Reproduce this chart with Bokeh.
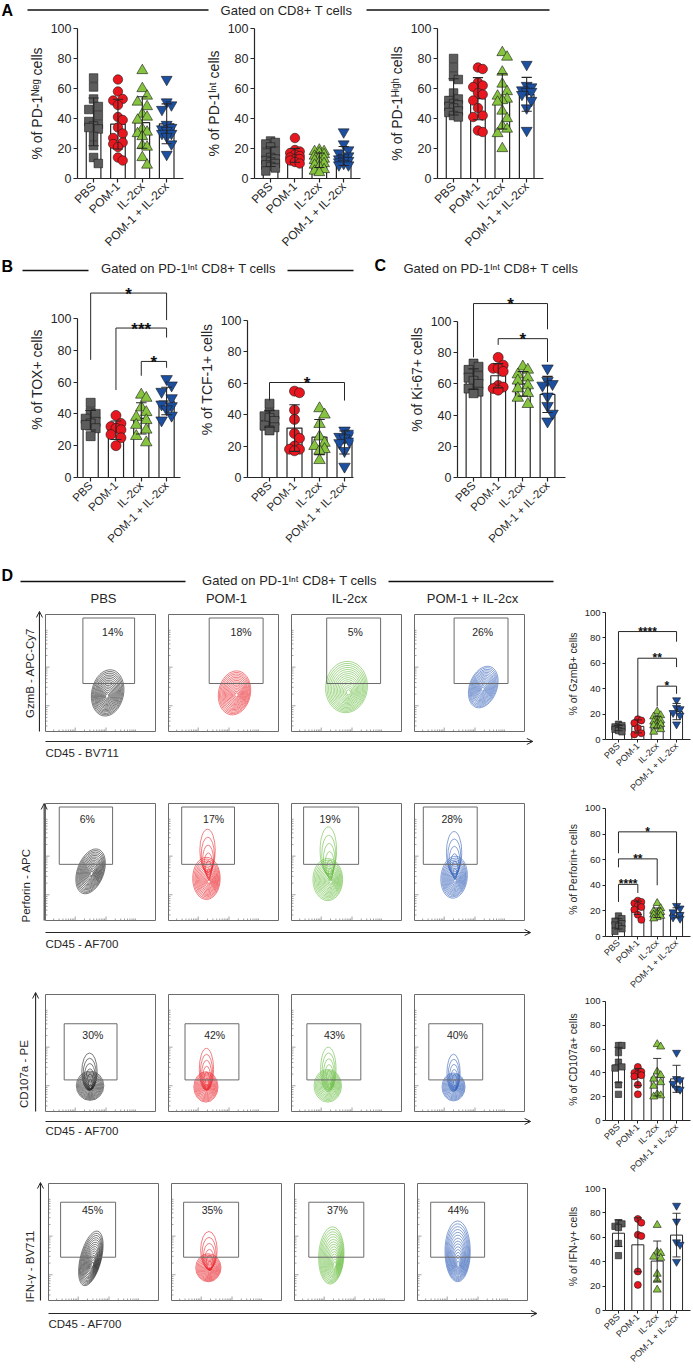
import math
import numpy as np
from bokeh.plotting import figure
from bokeh.layouts import column, row
from bokeh.models import FixedTicker, Range1d, Arrow, OpenHead
from bokeh.core.properties import value
from bokeh.embed import file_html
from bokeh.resources import INLINE

FONT = "Liberation Sans"
INK = "#262626"
GRAYLINE = "#6b6b6b"

groups = ["PBS", "POM-1", "IL-2cx", "POM-1 + IL-2cx"]
marker_fill = ["#5c5c5c", "#e8161e", "#86c440", "#1c4f9f"]
marker_kind = ["square", "circle", "triangle", "inverted_triangle"]
marker_scale = [0.9, 1.0, 1.15, 1.15]
flow_color = ["#1f1f1f", "#e8262d", "#66bd3f", "#3562b8"]

# ---------------- data ----------------
pd1_neg = [
    [67, 61, 53, 48, 46, 42, 38, 36, 35, 34, 33, 28, 22, 14, 10],
    [66, 58, 53, 52, 49, 41, 39, 34, 30, 27, 24, 23, 21, 14, 12],
    [72, 60, 55, 51, 48, 43, 41, 39, 33, 31, 30, 28, 22, 21, 14, 9],
    [66, 51, 49, 46, 36, 34, 33, 32, 30, 30, 28, 23, 16],
]
pd1_int = [
    [25, 24, 23, 21, 18, 17, 14, 13, 12, 11, 10, 9, 8, 7, 5],
    [27, 19, 18, 17, 16, 15, 14, 13, 13, 12, 11, 10],
    [19, 18, 18, 17, 16, 15, 14, 13, 12, 11, 10, 9, 8, 6, 5, 4],
    [31, 23, 19, 17, 15, 14, 13, 12, 12, 11, 10, 9, 9],
]
pd1_high = [
    [80, 74, 68, 66, 57, 53, 52, 50, 49, 48, 47, 45, 44, 42, 41],
    [74, 73, 64, 62, 61, 57, 56, 52, 47, 42, 41, 32, 31],
    [84, 81, 71, 63, 58, 55, 53, 52, 51, 45, 40, 35, 33, 30, 20],
    [76, 62, 61, 59, 58, 58, 56, 52, 47, 32],
]
tox = [
    [47, 41, 40, 37, 35, 34, 33, 31, 26],
    [39, 34, 32, 31, 30, 27, 25, 20],
    [52, 50, 44, 41, 38, 36, 33, 30, 26, 22],
    [62, 58, 54, 50, 46, 45, 43, 39, 36],
]
tcf1 = [
    [47, 41, 40, 39, 38, 36, 33, 32, 30],
    [55, 54, 43, 37, 28, 25, 20, 18, 18, 17],
    [44, 40, 34, 26, 22, 20, 18, 17, 11],
    [30, 28, 26, 25, 23, 22, 17, 7],
]
ki67 = [
    [73, 71, 69, 65, 64, 62, 60, 57, 55, 54],
    [77, 72, 70, 70, 68, 59, 58, 57, 56],
    [71, 69, 66, 64, 62, 59, 57, 54, 51, 47],
    [70, 62, 60, 59, 52, 46, 41, 36],
]
gzmb = [
    [12, 11, 10, 9, 9, 8, 7, 6],
    [16, 15, 13, 9, 5, 4],
    [22, 19, 18, 16, 15, 14, 13, 12, 11, 10, 8, 6],
    [31, 25, 24, 21, 19, 12],
]
perforin = [
    [16, 14, 12, 10, 9, 8, 6, 4],
    [28, 27, 26, 24, 23, 21, 17, 13],
    [26, 22, 20, 19, 18, 17, 16, 15, 14],
    [24, 22, 19, 17, 15, 14],
]
cd107a = [
    [63, 63, 57, 49, 45, 44, 30, 22],
    [45, 41, 40, 39, 38, 37, 30, 22],
    [64, 62, 41, 38, 35, 32, 29, 22, 21, 20],
    [57, 35, 34, 31, 27, 26],
]
ifng = [
    [72, 71, 69, 68, 55, 45],
    [75, 72, 62, 61, 32, 21],
    [70, 48, 47, 44, 43, 30, 25, 17],
    [86, 73, 56, 54, 40],
]

# significance brackets: (group i, group j, bracket height, left leg end, right leg end, label)
tox_sig = [(0, 3, 116, 74, 99, "*"), (1, 3, 94, 55, 88, "***"), (2, 3, 73, 64, 69, "*")]
tcf1_sig = [(0, 3, 60.5, 49, 49, "*")]
ki67_sig = [(0, 3, 111.5, 77, 95, "*"), (1, 3, 89, 85, 74, "*")]
gzmb_sig = [(0, 3, 85, 15, 77, "****"), (1, 3, 64, 18, 57, "**"), (2, 3, 42, 26, 36, "*")]
perforin_sig = [(0, 3, 81.7, 65, 24, "*"), (0, 2, 60.6, 54, 40, "**"), (0, 1, 40.7, 27, 34, "****")]

# flow plots: gate (x0, x1) per group, gate y-span per row, percentages, contour shapes
flow_rows = [
    dict(ylabel="GzmB - APC-Cy7", xlabel="CD45 - BV711",
         gate_x=[(0.34, 0.81), (0.37, 0.86), (0.32, 0.81), (0.36, 0.85)], gate_y=(0.41, 0.97),
         pct=["14%", "18%", "5%", "26%"], pct_x=[0.61, 0.66, 0.58, 0.62], pct_y=0.85,
         contours=[
             dict(core=(0.56, 0.30), parts=[(0.565, 0.33, 0.29, 0.40, -0.2, 15)]),
             dict(core=(0.62, 0.31), parts=[(0.60, 0.33, 0.29, 0.38, -0.2, 15)]),
             dict(core=(0.52, 0.33), parts=[(0.50, 0.38, 0.38, 0.44, -0.1, 15)]),
             dict(core=(0.62, 0.36), parts=[(0.625, 0.38, 0.25, 0.37, -0.35, 15)]),
         ]),
    dict(ylabel="Perforin - APC", xlabel="CD45 - AF700",
         gate_x=[(0.125, 0.61), (0.12, 0.60), (0.11, 0.61), (0.08, 0.57)], gate_y=(0.48, 0.97),
         pct=["6%", "17%", "19%", "28%"], pct_x=[0.38, 0.41, 0.35, 0.34], pct_y=0.87,
         contours=[
             dict(core=(0.42, 0.40), parts=[(0.41, 0.42, 0.24, 0.40, -0.35, 15)]),
             dict(core=(0.37, 0.33), parts=[(0.345, 0.36, 0.25, 0.36, 0.0, 14), (0.355, 0.60, 0.14, 0.36, 0.0, 7)]),
             dict(core=(0.36, 0.33), parts=[(0.33, 0.35, 0.27, 0.36, 0.0, 14), (0.335, 0.60, 0.15, 0.40, 0.0, 7)]),
             dict(core=(0.37, 0.34), parts=[(0.36, 0.37, 0.24, 0.36, -0.1, 14), (0.36, 0.58, 0.14, 0.36, 0.0, 7)]),
         ]),
    dict(ylabel="CD107a - PE", xlabel="CD45 - AF700",
         gate_x=[(0.17, 0.65), (0.15, 0.64), (0.14, 0.63), (0.13, 0.62)], gate_y=(0.27, 0.75),
         pct=["30%", "42%", "43%", "40%"], pct_x=[0.43, 0.42, 0.39, 0.39], pct_y=0.65,
         contours=[
             dict(core=(0.41, 0.20), parts=[(0.405, 0.22, 0.25, 0.25, 0.0, 13), (0.40, 0.34, 0.14, 0.32, 0.0, 7)]),
             dict(core=(0.35, 0.20), parts=[(0.34, 0.21, 0.22, 0.26, 0.0, 13), (0.345, 0.36, 0.13, 0.36, 0.0, 7)]),
             dict(core=(0.35, 0.22), parts=[(0.33, 0.22, 0.25, 0.28, 0.0, 13), (0.335, 0.36, 0.14, 0.38, 0.0, 7)]),
             dict(core=(0.37, 0.20), parts=[(0.355, 0.21, 0.21, 0.24, 0.0, 13), (0.355, 0.33, 0.12, 0.32, 0.0, 7)]),
         ]),
    dict(ylabel="IFN-\u03b3 - BV711", xlabel="CD45 - AF700",
         gate_x=[(0.11, 0.61), (0.11, 0.61), (0.13, 0.63), (0.12, 0.61)], gate_y=(0.37, 0.84),
         pct=["45%", "35%", "37%", "44%"], pct_x=[0.40, 0.37, 0.39, 0.37], pct_y=0.77,
         contours=[
             dict(core=(0.40, 0.30), parts=[(0.385, 0.36, 0.19, 0.48, -0.25, 15)]),
             dict(core=(0.35, 0.25), parts=[(0.335, 0.28, 0.23, 0.24, 0.0, 13), (0.34, 0.43, 0.15, 0.32, 0.0, 7)]),
             dict(core=(0.37, 0.30), parts=[(0.335, 0.385, 0.23, 0.49, -0.05, 15)]),
             dict(core=(0.37, 0.30), parts=[(0.365, 0.42, 0.23, 0.52, 0.0, 15)]),
         ]),
]
# instrument axis decades (relative panel position) for the small inner tick marks
flow_dec_x = [0.27, 0.55, 0.83]
flow_dec_y = [0.22, 0.55, 0.88]

SUP_NEG = "\u1d3a\u1d49\u1d4d"
SUP_INT = "\u1d35\u207f\u1d57"
SUP_HIGH = "\u1d34\u2071\u1d4d\u02b0"


def txt(p, x, y, s, size, align="left", baseline="middle", angle=0.0, bold=False, color=INK, **kw):
    p.text(x=[x], y=[y], text=[s], text_font=value(FONT), text_font_size=f"{size}px",
           text_align=align, text_baseline=baseline, angle=angle,
           text_font_style="bold" if bold else "normal", text_color=color, **kw)


def swarm_offsets(vals, ppx, ppy, size, max_units):
    vals = np.asarray(vals, float)
    order = np.argsort(-vals, kind="stable")
    step = size * 0.5 / ppx
    cands = [0.0]
    k = 1
    while k * step <= max_units + 1e-9:
        cands += [k * step, -k * step]
        k += 1
    placed = []
    offs = np.zeros(len(vals))
    for i in order:
        y = vals[i] * ppy
        best, bestd = 0.0, -1.0
        for c in cands:
            x = c * ppx
            d = min([math.hypot(x - xp, y - yp) for xp, yp in placed] or [1e9])
            if d >= size * 0.85:
                best = c
                break
            if d > bestd:
                best, bestd = c, d
        offs[i] = best
        placed.append((best * ppx, y))
    return offs


def bar_chart(data, ylabel, fig_w, fig_h, left, frame_w, top, frame_h, y_end, x_start, x_end,
              msize, bar_w, cap_w, tick_fs, cat_fs, label_fs, brackets=(), star_fs=17, star_dy=0.0,
              tick_out=4, lw=1.2):
    right = fig_w - left - frame_w
    bottom = fig_h - top - frame_h
    p = figure(width=fig_w, height=fig_h, x_range=Range1d(x_start, x_end), y_range=Range1d(0, y_end),
               min_border_left=left, min_border_right=right, min_border_top=top, min_border_bottom=bottom,
               output_backend="svg", toolbar_location=None)
    p.outline_line_color = None
    p.xgrid.visible = False
    p.ygrid.visible = False
    p.background_fill_color = "white"
    p.border_fill_color = "white"

    ppx = frame_w / (x_end - x_start)
    ppy = frame_h / y_end
    xs = [0, 1, 2, 3]
    means = [float(np.mean(v)) for v in data]
    sds = [float(np.std(v, ddof=1)) for v in data]
    p.vbar(x=xs, top=means, width=bar_w, bottom=0, fill_color="white", line_color=INK, line_width=lw)
    for i, v in enumerate(data):
        ms = msize * marker_scale[i]
        offs = swarm_offsets(v, ppx, ppy, msize, bar_w * 0.55)
        p.scatter(x=[i + o for o in offs], y=v, marker=marker_kind[i], size=ms,
                  fill_color=marker_fill[i], line_color="#1a1a1a", line_width=0.6)
    lo = [m - s for m, s in zip(means, sds)]
    hi = [m + s for m, s in zip(means, sds)]
    p.segment(x0=xs, y0=lo, x1=xs, y1=hi, line_color=INK, line_width=lw * 0.9)
    p.segment(x0=[x - cap_w / 2 for x in xs], y0=hi, x1=[x + cap_w / 2 for x in xs], y1=hi,
              line_color=INK, line_width=lw * 0.9)
    p.segment(x0=[x - cap_w / 2 for x in xs], y0=lo, x1=[x + cap_w / 2 for x in xs], y1=lo,
              line_color=INK, line_width=lw * 0.9)
    for (i, j, yh, yl, yr, lab) in brackets:
        p.line([i, i, j, j], [yl, yh, yh, yr], line_color=INK, line_width=1.0)
        p.text(x=[(i + j) / 2], y=[yh], text=[lab], text_font=value(FONT),
               text_font_size=f"{star_fs}px", text_font_style="bold", text_align="center",
               text_baseline="alphabetic", text_color="#111111", y_offset=-star_dy)

    p.yaxis.ticker = FixedTicker(ticks=[0, 20, 40, 60, 80, 100])
    p.yaxis.bounds = (0, 100)
    p.xaxis.ticker = FixedTicker(ticks=xs)
    p.xaxis.major_label_overrides = {i: g for i, g in enumerate(groups)}
    p.xaxis.major_label_orientation = math.pi / 4
    for ax in (p.xaxis, p.yaxis):
        ax.axis_line_color = INK
        ax.axis_line_width = lw
        ax.major_tick_line_color = INK
        ax.major_tick_line_width = lw
        ax.major_tick_in = 0
        ax.major_tick_out = tick_out
        ax.minor_tick_line_color = None
        ax.major_label_text_font = FONT
        ax.major_label_text_color = INK
        ax.major_label_standoff = 2
    p.yaxis.major_label_text_font_size = f"{tick_fs}px"
    p.xaxis.major_label_text_font_size = f"{cat_fs}px"
    p.yaxis.axis_label = ylabel
    p.yaxis.axis_label_text_font = FONT
    p.yaxis.axis_label_text_font_style = "normal"
    p.yaxis.axis_label_text_font_size = f"{label_fs}px"
    p.yaxis.axis_label_text_color = INK
    p.yaxis.axis_label_standoff = 3
    return p


def blank_fig(w, h):
    p = figure(width=w, height=h, x_range=Range1d(0, w), y_range=Range1d(h, 0),
               x_axis_type=None, y_axis_type=None, min_border=0,
               output_backend="svg", toolbar_location=None)
    p.outline_line_color = None
    p.background_fill_color = "white"
    p.border_fill_color = "white"
    return p


def hline(p, x0, x1, y, w=1.6):
    p.line([x0, x1], [y, y], line_color="#111111", line_width=w)


BOX_X = 110.0   # px per panel unit (x)
BOX_Y = 117.0   # px per panel unit (y)
PITCH = 123.0 / BOX_X


def flow_row(spec, h, x0_px, top_px, arrow_x, arrow_top, xarrow_y, xarrow_end, xlab_y, ylab_x, ylab_y):
    x_start = -x0_px / BOX_X
    x_end = x_start + 545 / BOX_X
    y_end = 1 + top_px / BOX_Y
    y_start = y_end - h / BOX_Y
    p = figure(width=545, height=h, x_range=Range1d(x_start, x_end), y_range=Range1d(y_start, y_end),
               x_axis_type=None, y_axis_type=None, min_border=0,
               output_backend="svg", toolbar_location=None)
    p.outline_line_color = None
    p.background_fill_color = "white"
    p.border_fill_color = "white"
    px = [i * PITCH for i in range(4)]

    # inner tick marks on left and bottom edges
    ty, tyl, tx, txl = [], [], [], []
    for d in flow_dec_y:
        for k in range(1, 10):
            t = d + 0.33 * math.log10(k) - 0.33
            if 0.02 < t < 0.98:
                ty.append(t)
                tyl.append(4.0 if k == 1 else 2.0)
    for d in flow_dec_x:
        for k in range(1, 10):
            t = d + 0.28 * math.log10(k) - 0.28
            if 0.02 < t < 0.98:
                tx.append(t)
                txl.append(4.0 if k == 1 else 2.0)
    sx0, sy0, sx1, sy1 = [], [], [], []
    for xp in px:
        for t, L in zip(ty, tyl):
            sx0.append(xp); sx1.append(xp + L / BOX_X); sy0.append(t); sy1.append(t)
        for t, L in zip(tx, txl):
            sx0.append(xp + t); sx1.append(xp + t); sy0.append(0); sy1.append(L / BOX_Y)
    p.segment(x0=sx0, y0=sy0, x1=sx1, y1=sy1, line_color="#8a8a8a", line_width=0.8)

    # contours
    for i, c in enumerate(spec["contours"]):
        kx, ky = c["core"]
        for (cx, cy, w, hh, ang, n) in c["parts"]:
            s = np.linspace(1.0, 0.1, n)
            p.ellipse(x=px[i] + kx + (cx - kx) * s, y=ky + (cy - ky) * s, width=w * s, height=hh * s,
                      angle=ang, fill_color=None, line_color=flow_color[i], line_width=0.65, line_alpha=0.9)

    # panel boxes
    p.quad(left=px, right=[x + 1 for x in px], bottom=0, top=1, fill_color=None,
           line_color=GRAYLINE, line_width=1.0)
    # gates
    gy0, gy1 = spec["gate_y"]
    p.quad(left=[px[i] + g[0] for i, g in enumerate(spec["gate_x"])],
           right=[px[i] + g[1] for i, g in enumerate(spec["gate_x"])],
           bottom=gy0, top=gy1, fill_color=None, line_color=GRAYLINE, line_width=1.0)
    p.text(x=[px[i] + spec["pct_x"][i] for i in range(4)], y=[spec["pct_y"]] * 4, text=spec["pct"],
           text_font=value(FONT), text_font_size="10.5px", text_align="center", text_baseline="middle",
           text_color=INK)

    # big axis arrows
    p.add_layout(Arrow(end=OpenHead(size=6, line_color=INK, line_width=1.0), x_start=arrow_x, y_start=0.0,
                       x_end=arrow_x, y_end=arrow_top, line_color=INK, line_width=1.1))
    p.add_layout(Arrow(end=OpenHead(size=6, line_color=INK, line_width=1.0), x_start=0.0, y_start=xarrow_y,
                       x_end=xarrow_end, y_end=xarrow_y, line_color=INK, line_width=1.1))
    txt(p, 0.0, xlab_y, spec["xlabel"], 11.5, align="left", baseline="middle")
    txt(p, ylab_x, ylab_y, spec["ylabel"], 11.5, align="center", baseline="middle", angle=math.pi / 2)
    return p


# ---------------- headers ----------------
hA = blank_fig(693, 20)
txt(hA, 1, 10, "A", 16, bold=True, color="#000000")
hline(hA, 27, 208, 9.5)
txt(hA, 286, 10, "Gated on CD8+ T cells", 13, align="center")
hline(hA, 366, 549, 9.5)

hBC = blank_fig(693, 23)
txt(hBC, 1, 9, "B", 16, bold=True, color="#000000")
hline(hBC, 22, 88, 13)
txt(hBC, 188, 11, "Gated on PD-1" + SUP_INT + " CD8+ T cells", 13, align="center")
hline(hBC, 287, 353, 13)
txt(hBC, 374, 8, "C", 16, bold=True, color="#000000")
txt(hBC, 403, 11, "Gated on PD-1" + SUP_INT + " CD8+ T cells", 13, align="left")

hD = blank_fig(693, 54)
txt(hD, 1, 23, "D", 16, bold=True, color="#000000")
hline(hD, 20, 185, 29)
txt(hD, 289, 28, "Gated on PD-1" + SUP_INT + " CD8+ T cells", 13, align="center")
hline(hD, 388, 553, 29)
for i, g in enumerate(groups):
    txt(hD, 45 + i * 123 + 55 + 3, 46, g, 13, align="center")

# ---------------- panel A ----------------
A_kw = dict(fig_h=237, top=8, frame_h=150, y_end=100, x_start=-0.66, x_end=3.69, msize=9.5,
            bar_w=0.6, cap_w=0.42, tick_fs=12.5, cat_fs=12, label_fs=14)
a1 = bar_chart(pd1_neg, "% of PD-1" + SUP_NEG + " cells", fig_w=200, left=77, frame_w=106, **A_kw)
a2 = bar_chart(pd1_int, "% of PD-1" + SUP_INT + " cells", fig_w=183, left=54, frame_w=106, **A_kw)
a3 = bar_chart(pd1_high, "% of PD-1" + SUP_HIGH + " cells", fig_w=310, left=54, frame_w=106, **A_kw)

# ---------------- panels B, C ----------------
BC_kw = dict(fig_h=272, top=1, frame_h=196, msize=10, bar_w=0.6, cap_w=0.42,
             tick_fs=12.5, cat_fs=11.5, label_fs=14, star_fs=17, star_dy=-1.0)
b1 = bar_chart(tox, "% of TOX+ cells", fig_w=190, left=77, frame_w=103, y_end=196 / 1.59,
               x_start=-0.52, x_end=3.55, brackets=tox_sig, **BC_kw)
b2 = bar_chart(tcf1, "% of TCF-1+ cells", fig_w=190, left=57, frame_w=106, y_end=196 / 1.57,
               x_start=-0.88, x_end=3.36, brackets=tcf1_sig, **BC_kw)
c1 = bar_chart(ki67, "% of Ki-67+ cells", fig_w=313, left=77, frame_w=108, y_end=196 / 1.56,
               x_start=-0.65, x_end=3.73, brackets=ki67_sig, **BC_kw)

# ---------------- panel D ----------------
f1 = flow_row(flow_rows[0], 194, 45, 8, -0.055, 1.026, -0.085, 4.43, -0.18, -0.145, 0.50)
f2 = flow_row(flow_rows[1], 190, 45, 3, -0.012, 1.0, -0.103, 4.41, -0.205, -0.18, 0.30)
f3 = flow_row(flow_rows[2], 186, 45, 4, -0.09, 1.017, -0.085, 4.41, -0.17, -0.2, 0.32)
f4 = flow_row(flow_rows[3], 195, 48, 7, -0.073, 1.008, -0.111, 4.44, -0.205, -0.164, 0.29)

D_kw = dict(fig_w=148, left=60, frame_w=85, top=2, x_start=-0.67, x_end=3.72, msize=7,
            bar_w=0.62, cap_w=0.42, tick_fs=9.5, cat_fs=9, label_fs=10.5, star_fs=12, star_dy=0.0,
            tick_out=3, lw=1.0)
g1 = bar_chart(gzmb, "% of GzmB+ cells", fig_h=194, frame_h=131, y_end=131 / 1.27, brackets=gzmb_sig, **D_kw)
g2 = bar_chart(perforin, "% of Perforin+ cells", fig_h=196, frame_h=136, y_end=136 / 1.30,
               brackets=perforin_sig, **D_kw)
g3 = bar_chart(cd107a, "% of CD107a+ cells", fig_h=184, frame_h=124, y_end=124 / 1.21, **D_kw)
g4 = bar_chart(ifng, "% of IFN-\u03b3+ cells", fig_h=191, frame_h=128, y_end=128 / 1.22, **D_kw)

layout = column(
    hA,
    row(a1, a2, a3),
    hBC,
    row(b1, b2, c1),
    hD,
    row(column(f1, f2, f3, f4), column(g1, g2, g3, g4)),
)

open("out.html", "w").write(file_html(layout, INLINE))
